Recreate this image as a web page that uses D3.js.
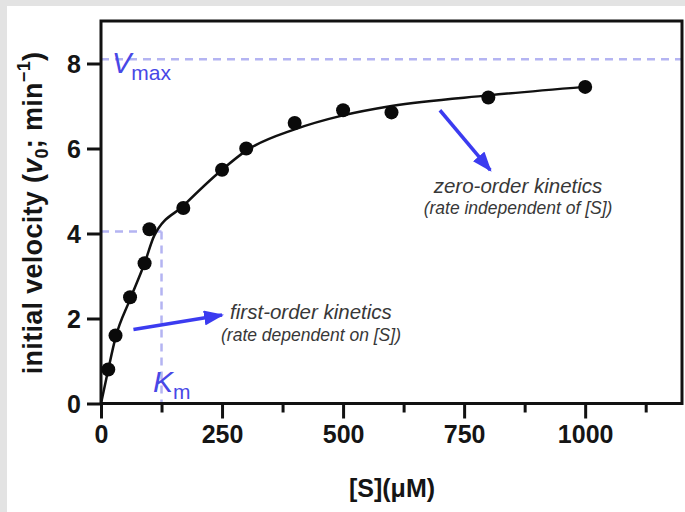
<!DOCTYPE html>
<html>
<head>
<meta charset="utf-8">
<script src="https://cdn.jsdelivr.net/npm/d3@7"></script>
<style>
  html, body { margin: 0; padding: 0; background: #fff; }
  svg text { font-family: "Liberation Sans", Arial, sans-serif; }
</style>
</head>
<body>
<svg id="chart" width="685" height="512"></svg>
<script>
// measured points: substrate conc (uM) vs initial velocity
const substrate = [15, 30, 60, 90, 100, 170, 250, 300, 400, 500, 600, 800, 1000];
const velocity  = [0.8, 1.6, 2.5, 3.3, 4.1, 4.6, 5.5, 6.0, 6.6, 6.9, 6.85, 7.2, 7.45];

// fitted curve
const curveS = [0, 15, 30, 60, 90, 110, 170, 250, 300, 400, 500, 600, 800, 1000];
const curveV = [0, 0.8, 1.55, 2.45, 3.3, 3.95, 4.65, 5.5, 5.95, 6.45, 6.78, 7.0, 7.25, 7.45];

const vmax = 8.1;
const km = 125;

const xMajor = [0, 250, 500, 750, 1000];
const xMinor = [125, 375, 625, 875, 1125];
const yTicks = [0, 2, 4, 6, 8];

// arrows [S0, v0, S1, v1]
const arrowFirst = [67, 1.74, 250, 2.08];
const arrowZero  = [700, 6.9, 804, 5.49];

const svg = d3.select("#chart");

// grey strips top/left like the screenshot
svg.append("rect").attr("x", 0).attr("y", 0).attr("width", 685).attr("height", 6).attr("fill", "#e3e3e3");
svg.append("rect").attr("x", 0).attr("y", 0).attr("width", 7).attr("height", 512).attr("fill", "#e3e3e3");

const x = d3.scaleLinear().domain([0, 1200]).range([101, 682]);
const y = d3.scaleLinear().domain([0, 9]).range([403.5, 21]);

const blue = "#4848e6";
const dashCol = "#b4b4f2";

// dashed guide lines
svg.append("line")
  .attr("x1", x(0)).attr("x2", x(1200))
  .attr("y1", y(vmax)).attr("y2", y(vmax))
  .attr("stroke", dashCol).attr("stroke-width", 2.5).attr("stroke-dasharray", "8,6");
svg.append("line")
  .attr("x1", x(0)).attr("x2", x(km))
  .attr("y1", y(vmax / 2)).attr("y2", y(vmax / 2))
  .attr("stroke", dashCol).attr("stroke-width", 2.5).attr("stroke-dasharray", "8,6");
svg.append("line")
  .attr("x1", x(km)).attr("x2", x(km))
  .attr("y1", y(vmax / 2)).attr("y2", y(0))
  .attr("stroke", dashCol).attr("stroke-width", 2.5).attr("stroke-dasharray", "8,6");

// axes
const xAxis = svg.append("g")
  .attr("transform", "translate(0," + y(0) + ")")
  .call(d3.axisBottom(x).tickValues(xMajor).tickSize(15).tickPadding(7).tickFormat(d3.format("d")));
const xAxisMinor = svg.append("g")
  .attr("transform", "translate(0," + y(0) + ")")
  .call(d3.axisBottom(x).tickValues(xMinor).tickSize(9).tickFormat(""));
const yAxis = svg.append("g")
  .attr("transform", "translate(" + x(0) + ",0)")
  .call(d3.axisLeft(y).tickValues(yTicks).tickSize(14).tickPadding(6));

[xAxis, xAxisMinor, yAxis].forEach(g => {
  g.select(".domain").remove();
  g.selectAll(".tick line").attr("stroke", "#111").attr("stroke-width", 3);
  g.selectAll(".tick text")
    .attr("fill", "#151515")
    .style("font-size", "25px")
    .style("font-weight", "bold");
});
yAxis.selectAll(".tick text").attr("dy", "0.36em");

// frame
svg.append("rect")
  .attr("x", x(0)).attr("y", y(9))
  .attr("width", x(1200) - x(0)).attr("height", y(0) - y(9))
  .attr("fill", "none").attr("stroke", "#111").attr("stroke-width", 3);

// curve
const line = d3.line()
  .curve(d3.curveMonotoneX)
  .x(d => x(d[0]))
  .y(d => y(d[1]));
svg.append("path")
  .datum(curveS.map((s, i) => [s, curveV[i]]))
  .attr("d", line)
  .attr("fill", "none")
  .attr("stroke", "#111")
  .attr("stroke-width", 2.5);

// points
svg.selectAll("circle.pt")
  .data(substrate.map((s, i) => [s, velocity[i]]))
  .enter()
  .append("circle")
  .attr("class", "pt")
  .attr("cx", d => x(d[0]))
  .attr("cy", d => y(d[1]))
  .attr("r", 7)
  .attr("fill", "#0a0a0a");

// arrows
svg.append("defs").append("marker")
  .attr("id", "head")
  .attr("markerUnits", "userSpaceOnUse")
  .attr("viewBox", "0 0 20 15")
  .attr("refX", 18).attr("refY", 7.5)
  .attr("markerWidth", 20).attr("markerHeight", 15)
  .attr("orient", "auto")
  .append("path")
  .attr("d", "M0,0 L20,7.5 L0,15 Z")
  .attr("fill", "#3b3bf0");

[arrowFirst, arrowZero].forEach(a => {
  svg.append("line")
    .attr("x1", x(a[0])).attr("y1", y(a[1]))
    .attr("x2", x(a[2])).attr("y2", y(a[3]))
    .attr("stroke", "#3b3bf0").attr("stroke-width", 3.5)
    .attr("marker-end", "url(#head)");
});

// Vmax / Km labels
const vLab = svg.append("text").attr("x", 112).attr("y", 73).attr("fill", blue);
vLab.append("tspan").text("V").style("font-size", "29px").style("font-style", "italic");
vLab.append("tspan").text("max").attr("dy", 7).style("font-size", "21px");

const kLab = svg.append("text").attr("x", 153).attr("y", 392).attr("fill", blue);
kLab.append("tspan").text("K").style("font-size", "30px").style("font-style", "italic");
kLab.append("tspan").text("m").attr("dy", 7).style("font-size", "21px");

// annotation text
const noteCol = "#383838";
svg.append("text").attr("x", 311).attr("y", 319).attr("text-anchor", "middle")
  .attr("fill", noteCol).style("font-size", "20.5px").style("font-style", "italic")
  .text("first-order kinetics");
svg.append("text").attr("x", 311).attr("y", 341).attr("text-anchor", "middle")
  .attr("fill", noteCol).style("font-size", "17.5px").style("font-style", "italic")
  .text("(rate dependent on [S])");
svg.append("text").attr("x", 518).attr("y", 193).attr("text-anchor", "middle")
  .attr("fill", noteCol).style("font-size", "20.5px").style("font-style", "italic")
  .text("zero-order kinetics");
svg.append("text").attr("x", 518).attr("y", 214).attr("text-anchor", "middle")
  .attr("fill", noteCol).style("font-size", "17.5px").style("font-style", "italic")
  .text("(rate independent of [S])");

// axis titles
svg.append("text")
  .attr("x", 392).attr("y", 497)
  .attr("text-anchor", "middle")
  .attr("fill", "#151515")
  .style("font-size", "25px").style("font-weight", "bold")
  .text("[S](μM)");

const yLab = svg.append("text")
  .attr("transform", "translate(42,213) rotate(-90)")
  .attr("text-anchor", "middle")
  .attr("fill", "#151515")
  .style("font-size", "27px").style("font-weight", "bold")
  .style("letter-spacing", "0.3px");
yLab.append("tspan").text("initial velocity (");
yLab.append("tspan").text("v").style("font-style", "italic");
yLab.append("tspan").text("0").attr("dy", 6).style("font-size", "18px");
yLab.append("tspan").text("; min").attr("dy", -6);
yLab.append("tspan").text("−1").attr("dy", -12).style("font-size", "18px");
yLab.append("tspan").text(")").attr("dy", 12);
</script>
</body>
</html>
